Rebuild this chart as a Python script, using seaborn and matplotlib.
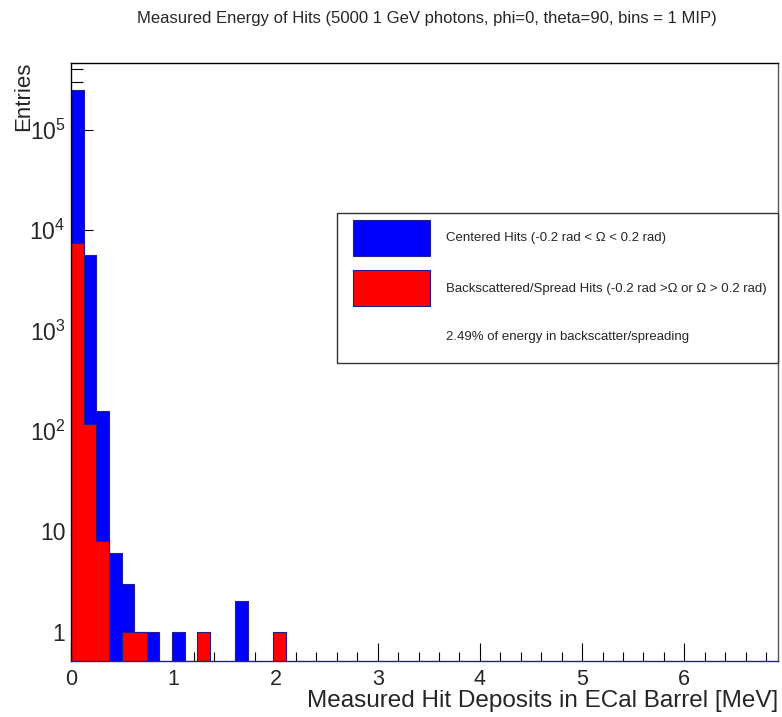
import numpy as np
import pandas as pd
import matplotlib
matplotlib.use("Agg")
import matplotlib.pyplot as plt
import matplotlib.ticker as mticker
from matplotlib.patches import Rectangle
import seaborn as sns

# ---------------- data ----------------
bin_width = 0.1235          # MeV (1 MIP per bin)
n_bins = 56
centered_counts = [247000, 5610, 157, 6, 3, 1, 1, 0, 1, 0, 0, 0, 0, 2, 0, 0, 0]
backscatter_counts = [7500, 118, 8, 0, 1, 1, 0, 0, 0, 0, 1, 0, 0, 0, 0, 0, 1]
x_tick_values = [0, 1, 2, 3, 4, 5, 6]
y_tick_values = [1, 10, 100, 1000, 10000, 100000]
y_tick_labels = ["1", "10", r"$10^{2}$", r"$10^{3}$", r"$10^{4}$", r"$10^{5}$"]
title = "Measured Energy of Hits (5000 1 GeV photons, phi=0, theta=90, bins = 1 MIP)"
x_label = "Measured Hit Deposits in ECal Barrel [MeV]"
y_label = "Entries"
legend_labels = ["Centered Hits (-0.2 rad < \u03a9 < 0.2 rad)",
                 "Backscattered/Spread Hits (-0.2 rad >\u03a9 or \u03a9 > 0.2 rad)"]
legend_note = "2.49% of energy in backscatter/spreading"

edges = np.arange(n_bins + 1) * bin_width
centers = (edges[:-1] + edges[1:]) / 2
cen = np.zeros(n_bins); cen[:len(centered_counts)] = centered_counts
bak = np.zeros(n_bins); bak[:len(backscatter_counts)] = backscatter_counts
df = pd.DataFrame({"x": centers, "centered": cen, "back": bak})

# ---------------- style ----------------
sns.set_style("white")
plt.rcParams["font.family"] = ["Liberation Sans", "DejaVu Sans"]
plt.rcParams["mathtext.fontset"] = "custom"
plt.rcParams["mathtext.rm"] = "Liberation Sans"
plt.rcParams["mathtext.it"] = "Liberation Sans:italic"
plt.rcParams["mathtext.bf"] = "Liberation Sans:bold"

fig = plt.figure(figsize=(7.82, 7.17), dpi=100)
ax = fig.add_axes([71 / 782, 1 - 661 / 717, 707 / 782, 598 / 717])

navy = "#1f1f8f"
binrange = (0, float(edges[-1]))
sns.histplot(data=df, x="x", weights="centered", binwidth=bin_width, binrange=binrange,
             element="step", fill=True, color="#0000ff", alpha=1, edgecolor=navy,
             linewidth=0.8, ax=ax)
sns.histplot(data=df, x="x", weights="back", binwidth=bin_width, binrange=binrange,
             element="step", fill=True, color="#ff0000", alpha=1, edgecolor=navy,
             linewidth=0.8, ax=ax)

ax.set_yscale("log")
ax.set_xlim(0, edges[-1])
ax.set_ylim(0.51, 4.6e5)

ax.set_xticks(x_tick_values)
ax.set_xticklabels([str(v) for v in x_tick_values], fontsize=15.5)
ax.xaxis.set_minor_locator(mticker.MultipleLocator(0.2))
ax.set_yticks(y_tick_values)
ax.set_yticklabels(y_tick_labels, fontsize=16.5)
ax.yaxis.set_minor_locator(mticker.LogLocator(base=10, subs=np.arange(2, 10)))
ax.yaxis.set_minor_formatter(mticker.NullFormatter())

ax.tick_params(axis="x", which="major", direction="in", length=12.7, width=0.8,
               color="black", pad=6, bottom=True, top=False)
ax.tick_params(axis="x", which="minor", direction="in", length=6.7, width=0.8,
               color="black", bottom=True, top=False)
ax.tick_params(axis="y", which="major", direction="in", length=15.6, width=0.8,
               color="black", pad=4, left=True, right=False)
ax.tick_params(axis="y", which="minor", direction="in", length=8.4, width=0.8,
               color="black", left=True, right=False)

ax.set_xlabel("")
ax.set_ylabel("")
fig.text(778 / 782, 1 - 701 / 717, x_label, ha="right", va="center", fontsize=17.5)
fig.text(24 / 782, 1 - 62 / 717, y_label, ha="center", va="top", rotation=90,
         fontsize=16)

for s in ["left", "top"]:
    ax.spines[s].set_color("black")
    ax.spines[s].set_linewidth(1)
ax.spines["right"].set_color("#555555")
ax.spines["right"].set_linewidth(1)
ax.spines["bottom"].set_color(navy)
ax.spines["bottom"].set_linewidth(1)

fig.text(427 / 782, 1 - 18 / 717, title, ha="center", va="center", fontsize=12)

# legend box (ROOT TLegend style)
fig.patches.append(Rectangle((337 / 782, 1 - 363 / 717), 441 / 782, 150 / 717,
                             transform=fig.transFigure, facecolor="white",
                             edgecolor="#333333", linewidth=1, zorder=5))
fig.patches.append(Rectangle((353 / 782, 1 - 256 / 717), 77 / 782, 36 / 717,
                             transform=fig.transFigure, facecolor="#0000ff",
                             edgecolor=navy, linewidth=0.8, zorder=6))
fig.patches.append(Rectangle((353 / 782, 1 - 306 / 717), 77 / 782, 36 / 717,
                             transform=fig.transFigure, facecolor="#ff0000",
                             edgecolor=navy, linewidth=0.8, zorder=6))
for txt, yp in zip(legend_labels + [legend_note], [238, 289, 337]):
    fig.text(446 / 782, 1 - yp / 717, txt, ha="left", va="center", fontsize=9.5, zorder=7)

fig.savefig("out.png", dpi=100)
